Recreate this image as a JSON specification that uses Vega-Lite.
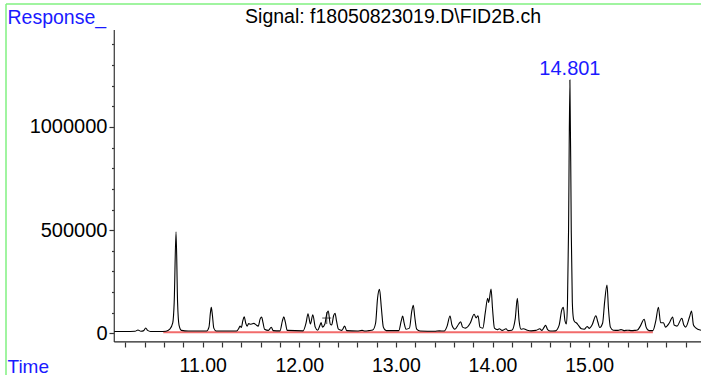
{
  "$schema": "https://vega.github.io/schema/vega-lite/v6.json",
  "width": 695,
  "height": 371,
  "autosize": {"type": "none"},
  "padding": {"left": 6, "top": 4, "right": 0, "bottom": 0},
  "background": "white",
  "config": {"view": {"stroke": null}, "font": "Liberation Sans"},
  "datasets": {
    "trace": [
      {"t": 10.085, "v": 9000}, {"t": 10.2, "v": 9000}, {"t": 10.3, "v": 10000}, {"t": 10.33, "v": 16000}, {"t": 10.36, "v": 10000},
      {"t": 10.39, "v": 13000}, {"t": 10.41, "v": 26000}, {"t": 10.43, "v": 14000}, {"t": 10.46, "v": 9000}, {"t": 10.55, "v": 9000},
      {"t": 10.62, "v": 10000}, {"t": 10.66, "v": 20000}, {"t": 10.69, "v": 50000}, {"t": 10.705, "v": 150000}, {"t": 10.724, "v": 492000},
      {"t": 10.74, "v": 150000}, {"t": 10.755, "v": 40000}, {"t": 10.78, "v": 14000}, {"t": 10.85, "v": 11000}, {"t": 11.04, "v": 11000},
      {"t": 11.065, "v": 30000}, {"t": 11.08, "v": 100000}, {"t": 11.089, "v": 126000}, {"t": 11.1, "v": 90000}, {"t": 11.115, "v": 25000},
      {"t": 11.14, "v": 11000}, {"t": 11.35, "v": 11000}, {"t": 11.375, "v": 25000}, {"t": 11.386, "v": 35000}, {"t": 11.4, "v": 28000},
      {"t": 11.415, "v": 60000}, {"t": 11.43, "v": 80000}, {"t": 11.445, "v": 50000}, {"t": 11.46, "v": 35000}, {"t": 11.475, "v": 47000},
      {"t": 11.5, "v": 44000}, {"t": 11.53, "v": 48000}, {"t": 11.55, "v": 42000}, {"t": 11.575, "v": 35000}, {"t": 11.595, "v": 70000},
      {"t": 11.61, "v": 79000}, {"t": 11.625, "v": 50000}, {"t": 11.64, "v": 20000}, {"t": 11.68, "v": 14000}, {"t": 11.71, "v": 29000},
      {"t": 11.73, "v": 13000}, {"t": 11.8, "v": 12000}, {"t": 11.825, "v": 60000}, {"t": 11.84, "v": 80000}, {"t": 11.855, "v": 55000},
      {"t": 11.875, "v": 14000}, {"t": 12.04, "v": 12000}, {"t": 12.07, "v": 50000}, {"t": 12.09, "v": 95000}, {"t": 12.115, "v": 45000},
      {"t": 12.14, "v": 90000}, {"t": 12.165, "v": 30000}, {"t": 12.19, "v": 15000}, {"t": 12.215, "v": 40000}, {"t": 12.226, "v": 52000},
      {"t": 12.24, "v": 30000}, {"t": 12.265, "v": 45000}, {"t": 12.28, "v": 85000}, {"t": 12.3, "v": 108000}, {"t": 12.32, "v": 45000},
      {"t": 12.335, "v": 40000}, {"t": 12.355, "v": 85000}, {"t": 12.37, "v": 97000}, {"t": 12.385, "v": 60000}, {"t": 12.405, "v": 20000},
      {"t": 12.44, "v": 14000}, {"t": 12.47, "v": 35000}, {"t": 12.49, "v": 13000}, {"t": 12.6, "v": 11000}, {"t": 12.65, "v": 14000},
      {"t": 12.68, "v": 11000}, {"t": 12.72, "v": 13000}, {"t": 12.76, "v": 16000}, {"t": 12.79, "v": 50000}, {"t": 12.81, "v": 170000},
      {"t": 12.83, "v": 213000}, {"t": 12.85, "v": 120000}, {"t": 12.87, "v": 30000}, {"t": 12.9, "v": 13000}, {"t": 13.03, "v": 13000},
      {"t": 13.055, "v": 60000}, {"t": 13.07, "v": 84000}, {"t": 13.085, "v": 50000}, {"t": 13.105, "v": 20000}, {"t": 13.14, "v": 25000},
      {"t": 13.165, "v": 110000}, {"t": 13.18, "v": 136000}, {"t": 13.195, "v": 80000}, {"t": 13.215, "v": 20000}, {"t": 13.25, "v": 11000},
      {"t": 13.4, "v": 10000}, {"t": 13.45, "v": 12000}, {"t": 13.5, "v": 11000}, {"t": 13.53, "v": 35000}, {"t": 13.56, "v": 84000},
      {"t": 13.58, "v": 40000}, {"t": 13.61, "v": 20000}, {"t": 13.65, "v": 45000}, {"t": 13.67, "v": 56000}, {"t": 13.69, "v": 30000},
      {"t": 13.72, "v": 25000}, {"t": 13.77, "v": 50000}, {"t": 13.81, "v": 92000}, {"t": 13.83, "v": 75000}, {"t": 13.85, "v": 85000},
      {"t": 13.87, "v": 30000}, {"t": 13.9, "v": 25000}, {"t": 13.925, "v": 100000}, {"t": 13.95, "v": 170000}, {"t": 13.96, "v": 150000},
      {"t": 13.985, "v": 215000}, {"t": 14.0, "v": 120000}, {"t": 14.02, "v": 25000}, {"t": 14.05, "v": 18000}, {"t": 14.07, "v": 22000},
      {"t": 14.1, "v": 14000}, {"t": 14.14, "v": 22000}, {"t": 14.16, "v": 13000}, {"t": 14.2, "v": 15000}, {"t": 14.235, "v": 70000},
      {"t": 14.257, "v": 170000}, {"t": 14.275, "v": 60000}, {"t": 14.295, "v": 20000}, {"t": 14.32, "v": 22000}, {"t": 14.36, "v": 15000},
      {"t": 14.4, "v": 12000}, {"t": 14.45, "v": 14000}, {"t": 14.49, "v": 22000}, {"t": 14.51, "v": 14000}, {"t": 14.535, "v": 30000},
      {"t": 14.55, "v": 39000}, {"t": 14.57, "v": 18000}, {"t": 14.6, "v": 11000}, {"t": 14.65, "v": 12000}, {"t": 14.69, "v": 40000},
      {"t": 14.715, "v": 110000}, {"t": 14.733, "v": 126000}, {"t": 14.75, "v": 60000}, {"t": 14.765, "v": 45000}, {"t": 14.776, "v": 150000},
      {"t": 14.787, "v": 500000}, {"t": 14.801, "v": 1228000}, {"t": 14.815, "v": 500000}, {"t": 14.826, "v": 150000}, {"t": 14.838, "v": 70000},
      {"t": 14.85, "v": 56000}, {"t": 14.87, "v": 50000}, {"t": 14.89, "v": 38000}, {"t": 14.92, "v": 22000}, {"t": 14.95, "v": 20000},
      {"t": 14.98, "v": 33000}, {"t": 15.0, "v": 24000}, {"t": 15.03, "v": 40000}, {"t": 15.07, "v": 85000}, {"t": 15.09, "v": 55000},
      {"t": 15.11, "v": 28000}, {"t": 15.14, "v": 50000}, {"t": 15.16, "v": 150000}, {"t": 15.185, "v": 234000}, {"t": 15.2, "v": 120000},
      {"t": 15.22, "v": 30000}, {"t": 15.25, "v": 15000}, {"t": 15.3, "v": 14000}, {"t": 15.33, "v": 18000}, {"t": 15.36, "v": 13000},
      {"t": 15.4, "v": 15000}, {"t": 15.44, "v": 13000}, {"t": 15.47, "v": 14000}, {"t": 15.5, "v": 16000}, {"t": 15.53, "v": 35000},
      {"t": 15.57, "v": 68000}, {"t": 15.59, "v": 30000}, {"t": 15.62, "v": 13000}, {"t": 15.66, "v": 13000}, {"t": 15.69, "v": 60000},
      {"t": 15.717, "v": 126000}, {"t": 15.74, "v": 51000}, {"t": 15.77, "v": 51000}, {"t": 15.79, "v": 30000}, {"t": 15.83, "v": 50000},
      {"t": 15.865, "v": 79000}, {"t": 15.88, "v": 40000}, {"t": 15.91, "v": 35000}, {"t": 15.96, "v": 73000}, {"t": 15.98, "v": 40000},
      {"t": 16.0, "v": 30000}, {"t": 16.04, "v": 80000}, {"t": 16.06, "v": 108000}, {"t": 16.08, "v": 40000}, {"t": 16.1, "v": 28000},
      {"t": 16.158, "v": 15000}
    ],
    "baseline": [{"t": 10.592, "t2": 15.66, "v": 5000}],
    "frameH": [{"t": 8.964, "t2": 16.158, "v": 1596100}],
    "frameV": [{"t": 8.964, "v": 1596100, "v2": -202100}],
    "axisV": [{"t": 10.085, "v": 1470000, "v2": -42000}],
    "axisH": [{"t": 10.085, "t2": 16.158, "v": -42000}],
    "peaks": [{"t": 14.801, "v": 1228000, "label": "14.801"}],
    "marker": [{"t": 12.284, "v": 74000}],
    "titles": [{"t": 12.97, "v": 1504000, "label": "Signal: f18050823019.D\\FID2B.ch"}]
  },
  "encoding": {
    "x": {
      "field": "t", "type": "quantitative",
      "scale": {"domain": [8.964, 16.158], "nice": false, "zero": false},
      "axis": {
        "title": "Time",
        "values": [10.2, 10.4, 10.6, 10.8, 11, 11.2, 11.4, 11.6, 11.8, 12, 12.2, 12.4, 12.6, 12.8, 13, 13.2, 13.4, 13.6, 13.8, 14, 14.2, 14.4, 14.6, 14.8, 15, 15.2, 15.4, 15.6, 15.8, 16],
        "format": ".2f",
        "labelExpr": "abs(datum.value - round(datum.value)) < 0.001 && datum.value < 15.5 ? datum.label : ''",
        "domain": false, "grid": false, "offset": -33,
        "tickSize": 5, "tickColor": "#333", "tickWidth": 1.2,
        "labelFont": "Liberation Sans", "labelFontSize": 19.5, "labelColor": "black",
        "labelBaseline": "alphabetic", "labelPadding": 24, "labelOverlap": false, "labelFlush": false,
        "titleX": 1, "titleY": 30, "titleAlign": "left", "titleBaseline": "alphabetic", "titleAnchor": "start",
        "titleColor": "#1a1aff", "titleFont": "Liberation Sans", "titleFontSize": 19, "titleFontWeight": "normal"
      }
    },
    "y": {
      "field": "v", "type": "quantitative",
      "scale": {"domain": [-202100, 1596100], "nice": false, "zero": false},
      "axis": {
        "title": "Response_",
        "values": [0, 100000, 200000, 300000, 400000, 500000, 600000, 700000, 800000, 900000, 1000000, 1100000, 1200000, 1300000, 1400000],
        "labelExpr": "datum.value % 500000 === 0 ? format(datum.value, 'd') : ''",
        "domain": false, "grid": false, "offset": -108,
        "tickSize": {"condition": {"test": "datum.value % 500000 === 0", "value": 5}, "value": 2.5},
        "tickColor": "#333", "tickWidth": 1.2,
        "labelFont": "Liberation Sans", "labelFontSize": 20, "labelColor": "black",
        "labelPadding": 2, "labelOverlap": false, "labelFlush": false, "labelBaseline": "middle",
        "titleAngle": 0, "titleX": -107, "titleY": 19, "titleAlign": "left", "titleBaseline": "alphabetic", "titleAnchor": "start",
        "titleColor": "#1a1aff", "titleFont": "Liberation Sans", "titleFontSize": 19.5, "titleFontWeight": "normal"
      }
    }
  },
  "layer": [
    {
      "data": {"name": "frameH"},
      "mark": {"type": "rule", "color": "#80f080", "strokeWidth": 1.5},
      "encoding": {"x2": {"field": "t2"}}
    },
    {
      "data": {"name": "frameV"},
      "mark": {"type": "rule", "color": "#80f080", "strokeWidth": 1.5},
      "encoding": {"y2": {"field": "v2"}}
    },
    {
      "data": {"name": "axisV"},
      "mark": {"type": "rule", "color": "#444", "strokeWidth": 1.3},
      "encoding": {"y2": {"field": "v2"}}
    },
    {
      "data": {"name": "axisH"},
      "mark": {"type": "rule", "color": "#222", "strokeWidth": 1.3},
      "encoding": {"x2": {"field": "t2"}}
    },
    {
      "data": {"name": "baseline"},
      "mark": {"type": "rule", "color": "#f26b6b", "strokeWidth": 2},
      "encoding": {"x2": {"field": "t2"}}
    },
    {
      "data": {"name": "trace"},
      "mark": {"type": "line", "color": "black", "strokeWidth": 1.1, "interpolate": "monotone"},
      "encoding": {}
    },
    {
      "data": {"name": "marker"},
      "mark": {"type": "point", "shape": "M-0.9,0H0.9M0,-1.2V1.2", "size": 100, "color": "black", "strokeWidth": 1, "filled": false},
      "encoding": {}
    },
    {
      "data": {"name": "peaks"},
      "mark": {"type": "text", "color": "#1a1aff", "font": "Liberation Sans", "fontSize": 20, "baseline": "alphabetic", "align": "center", "dy": -5},
      "encoding": {"text": {"field": "label"}}
    },
    {
      "data": {"name": "titles"},
      "mark": {"type": "text", "color": "black", "font": "Liberation Sans", "fontSize": 19.5, "baseline": "alphabetic", "align": "center"},
      "encoding": {"text": {"field": "label"}}
    }
  ]
}
